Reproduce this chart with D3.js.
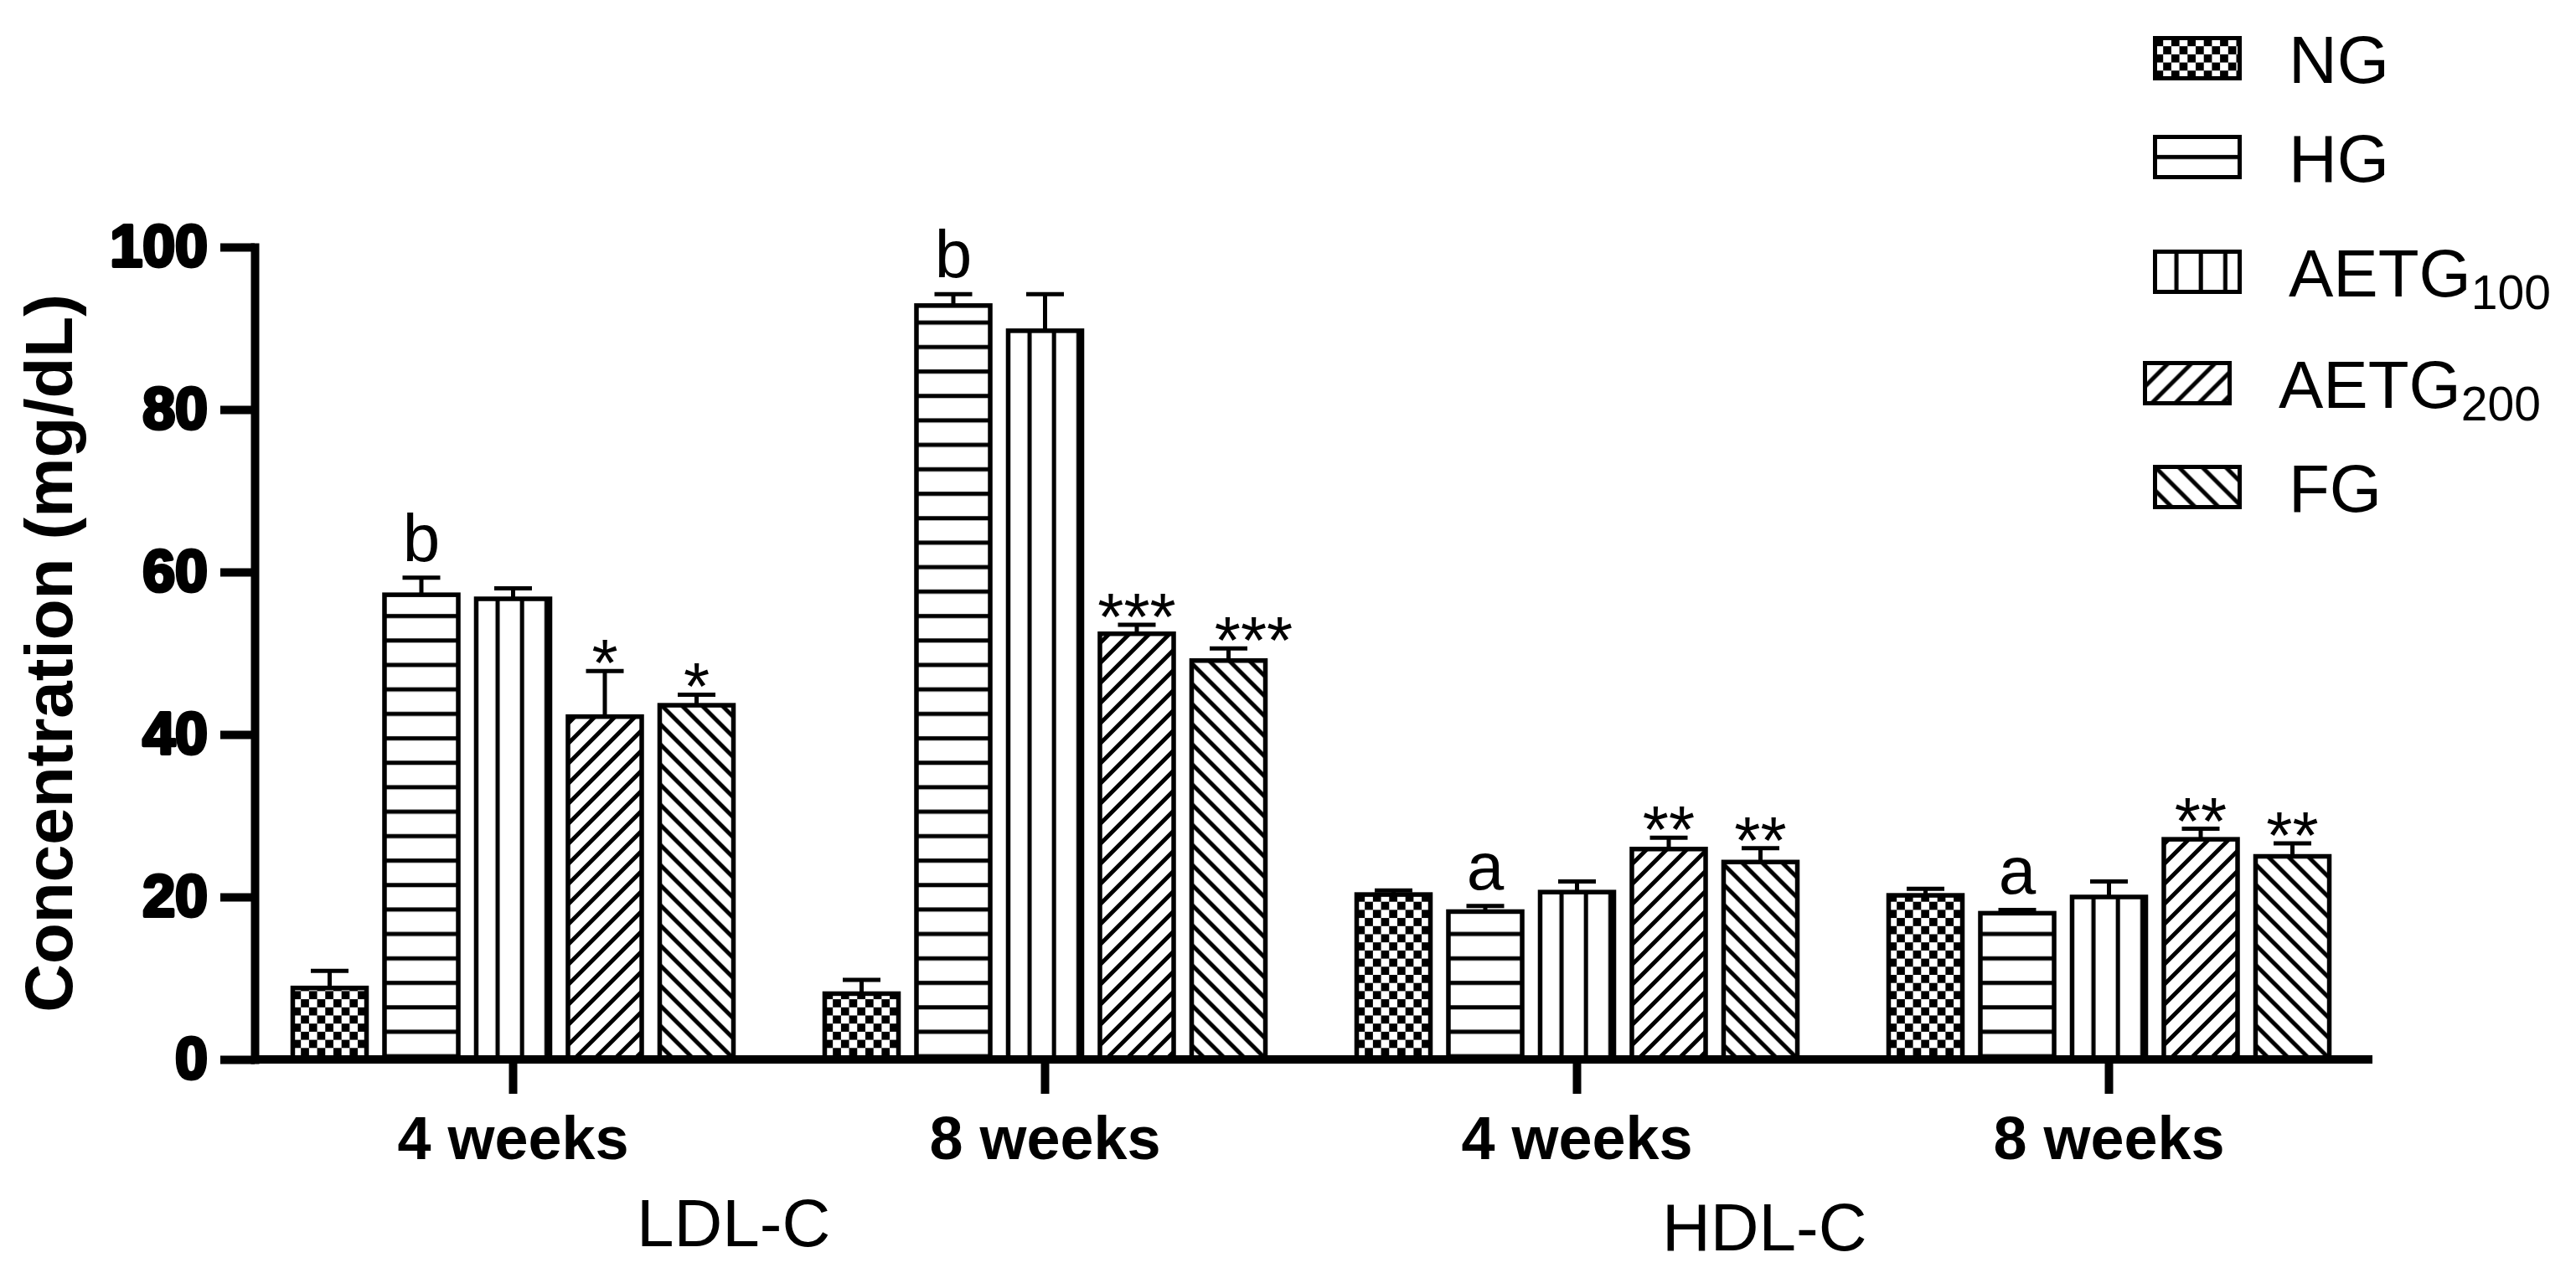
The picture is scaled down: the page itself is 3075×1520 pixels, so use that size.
<!DOCTYPE html>
<html>
<head>
<meta charset="utf-8">
<script src="https://cdn.jsdelivr.net/npm/d3@7"></script>
<style>
  body { margin: 0; background: #fff; }
  svg text { font-family: "Liberation Sans", Arial, sans-serif; fill: #000; }
</style>
</head>
<body>
<div id="chart"></div>
<script>
// ---- data ----
var groups = ["LDL-C 4 weeks", "LDL-C 8 weeks", "HDL-C 4 weeks", "HDL-C 8 weeks"];
var weekLabels = ["4 weeks", "8 weeks", "4 weeks", "8 weeks"];
var lipidLabels = ["LDL-C", "HDL-C"];
var series = ["NG", "HG", "AETG100", "AETG200", "FG"];
var seriesMain = ["NG", "HG", "AETG", "AETG", "FG"];
var seriesSub = ["", "", "100", "200", ""];

// means per group (LDL 4w, LDL 8w, HDL 4w, HDL 8w)
var meanNG      = [8.8, 8.1, 20.3, 20.2];
var meanHG      = [57.2, 92.8, 18.2, 18.0];
var meanAETG100 = [56.7, 89.7, 20.6, 20.0];
var meanAETG200 = [42.2, 52.4, 25.9, 27.1];
var meanFG      = [43.6, 49.1, 24.3, 25.0];

// upper error (SEM)
var semNG      = [2.1, 1.7, 0.5, 0.8];
var semHG      = [2.1, 1.4, 0.7, 0.4];
var semAETG100 = [1.3, 4.5, 1.3, 1.9];
var semAETG200 = [5.6, 1.1, 1.4, 1.3];
var semFG      = [1.3, 1.5, 1.7, 1.6];

// significance marks
var markNG      = ["", "", "", ""];
var markHG      = ["b", "b", "a", "a"];
var markAETG100 = ["", "", "", ""];
var markAETG200 = ["*", "***", "**", "**"];
var markFG      = ["*", "***", "**", "**"];

var yTicks = [0, 20, 40, 60, 80, 100];

function init() {
    var width = 3075;
    var height = 1520;

    var means = [meanNG, meanHG, meanAETG100, meanAETG200, meanFG];
    var sems = [semNG, semHG, semAETG100, semAETG200, semFG];
    var marks = [markNG, markHG, markAETG100, markAETG200, markFG];

    var svg = d3.select("#chart")
        .append("svg")
        .attr("width", width)
        .attr("height", height)
        .style("background", "#fff");

    // Scales
    var y = d3.scaleLinear().domain([0, 100]).range([1265, 295]);
    var x0 = d3.scaleBand().domain(groups).range([295, 2835]).paddingInner(0).paddingOuter(0);
    var x1 = d3.scaleBand().domain(series).range([0, x0.bandwidth()])
        .paddingInner(0.196).paddingOuter(0.4975);
    var bw = x1.bandwidth();

    // Fill patterns
    var defs = svg.append("defs");

    function addPatterns(prefix, hOffset, diag) {
        var p = defs.append("pattern").attr("id", prefix + "NG")
            .attr("patternUnits", "userSpaceOnUse").attr("width", 19.4).attr("height", 19.4);
        p.append("rect").attr("width", 19.4).attr("height", 19.4).attr("fill", "#fff");
        p.append("rect").attr("width", 9.7).attr("height", 9.7).attr("fill", "#000");
        p.append("rect").attr("x", 9.7).attr("y", 9.7).attr("width", 9.7).attr("height", 9.7).attr("fill", "#000");

        p = defs.append("pattern").attr("id", prefix + "HG")
            .attr("patternUnits", "userSpaceOnUse").attr("width", 10).attr("height", 29.2);
        p.append("rect").attr("width", 10).attr("height", 29.2).attr("fill", "#fff");
        p.append("rect").attr("y", hOffset - 2.5).attr("width", 10).attr("height", 5).attr("fill", "#000");

        p = defs.append("pattern").attr("id", prefix + "AETG100")
            .attr("patternUnits", "userSpaceOnUse").attr("width", 29.2).attr("height", 10);
        p.append("rect").attr("width", 29.2).attr("height", 10).attr("fill", "#fff");
        p.append("rect").attr("x", 23).attr("width", 5).attr("height", 10).attr("fill", "#000");

        var d = diag;
        p = defs.append("pattern").attr("id", prefix + "AETG200")
            .attr("patternUnits", "userSpaceOnUse").attr("width", d).attr("height", d);
        p.append("rect").attr("width", d).attr("height", d).attr("fill", "#fff");
        p.append("path")
            .attr("d", "M0," + d + "L" + d + ",0M" + (-d / 4) + "," + (d / 4) + "L" + (d / 4) + "," + (-d / 4) +
                "M" + (3 * d / 4) + "," + (5 * d / 4) + "L" + (5 * d / 4) + "," + (3 * d / 4))
            .attr("stroke", "#000").attr("stroke-width", 5);

        p = defs.append("pattern").attr("id", prefix + "FG")
            .attr("patternUnits", "userSpaceOnUse").attr("width", d).attr("height", d);
        p.append("rect").attr("width", d).attr("height", d).attr("fill", "#fff");
        p.append("path")
            .attr("d", "M0,0L" + d + "," + d + "M" + (-d / 4) + "," + (3 * d / 4) + "L" + (d / 4) + "," + (5 * d / 4) +
                "M" + (3 * d / 4) + "," + (-d / 4) + "L" + (5 * d / 4) + "," + (d / 4))
            .attr("stroke", "#000").attr("stroke-width", 5);
    }
    addPatterns("bar-", 5.6, 24);
    addPatterns("leg-", 24, 28);

    // Bars
    var rows = groups.map(function (g, i) {
        return series.map(function (s, j) {
            return { group: g, series: s, mean: means[j][i], sem: sems[j][i], mark: marks[j][i] };
        });
    });

    var markShift = { "LDL-C 8 weeks|FG": 30 };

    var groupG = svg.append("g").selectAll("g")
        .data(rows)
        .enter()
        .append("g")
        .attr("transform", function (d, i) { return "translate(" + x0(groups[i]) + ",0)"; });

    var barG = groupG.selectAll("g")
        .data(function (d) { return d; })
        .enter()
        .append("g")
        .attr("transform", function (d) { return "translate(" + x1(d.series) + ",0)"; });

    barG.append("rect")
        .attr("x", 0)
        .attr("y", function (d) { return y(d.mean); })
        .attr("width", bw)
        .attr("height", function (d) { return y(0) - y(d.mean); })
        .attr("fill", function (d) { return "url(#bar-" + d.series + ")"; })
        .attr("stroke", "#000")
        .attr("stroke-width", 5.5);

    // Error bars (upper only)
    barG.append("line")
        .attr("x1", bw / 2).attr("x2", bw / 2)
        .attr("y1", function (d) { return y(d.mean); })
        .attr("y2", function (d) { return y(d.mean + d.sem); })
        .attr("stroke", "#000").attr("stroke-width", 5);
    barG.append("line")
        .attr("x1", bw / 2 - 22.5).attr("x2", bw / 2 + 22.5)
        .attr("y1", function (d) { return y(d.mean + d.sem); })
        .attr("y2", function (d) { return y(d.mean + d.sem); })
        .attr("stroke", "#000").attr("stroke-width", 5);

    // Significance marks
    barG.filter(function (d) { return d.mark !== ""; })
        .append("text")
        .attr("x", function (d) { return bw / 2 + (markShift[d.group + "|" + d.series] || 0); })
        .attr("y", function (d) {
            var top = y(d.mean + d.sem);
            return d.mark.charAt(0) === "*" ? top + 18 : top - 20;
        })
        .attr("text-anchor", "middle")
        .style("font-size", "80px")
        .text(function (d) { return d.mark; });

    // Y axis
    var yAxis = d3.axisLeft(y).tickValues(yTicks).tickSize(41).tickPadding(15).tickSizeOuter(0);
    var yG = svg.append("g").attr("transform", "translate(304,0)").call(yAxis);
    yG.attr("font-family", null);
    yG.select(".domain").attr("stroke-width", 10).attr("stroke-linecap", "square");
    yG.selectAll(".tick line").attr("stroke-width", 10);
    yG.selectAll(".tick text")
        .style("font-size", "70px").style("font-weight", "bold")
        .attr("stroke", "#000").attr("stroke-width", 4).attr("stroke-linejoin", "round");

    // X axis
    var xAxis = d3.axisBottom(x0).tickSize(41).tickPadding(27).tickSizeOuter(0)
        .tickFormat(function (d, i) { return weekLabels[i]; });
    var xG = svg.append("g").attr("transform", "translate(0," + y(0) + ")").call(xAxis);
    xG.attr("font-family", null);
    xG.select(".domain").remove();
    xG.append("line")
        .attr("x1", 304).attr("x2", 2832)
        .attr("stroke", "#000").attr("stroke-width", 10);
    xG.selectAll(".tick line").attr("stroke-width", 10);
    xG.selectAll(".tick text")
        .style("font-size", "72px").style("font-weight", "bold");

    // Lipid labels below the week labels
    svg.append("text").attr("x", 760).attr("y", 1488)
        .style("font-size", "80px").text(lipidLabels[0]);
    svg.append("text").attr("x", 1984).attr("y", 1493)
        .style("font-size", "80px").text(lipidLabels[1]);

    // Y title
    svg.append("text")
        .attr("transform", "translate(86,780) rotate(-90)")
        .attr("text-anchor", "middle")
        .style("font-size", "80px").style("font-weight", "bold")
        .text("Concentration (mg/dL)");

    // Legend
    var legTops = [43, 161, 298, 431, 555];
    var legDx = [0, 0, 0, -12, 0];
    var leg = svg.append("g").selectAll("g")
        .data(series)
        .enter()
        .append("g")
        .attr("transform", function (d, i) {
            return "translate(" + (2572.5 + legDx[i]) + "," + (legTops[i] + 2.5) + ")";
        });

    leg.append("rect")
        .attr("width", 101).attr("height", 48)
        .attr("fill", function (d) { return "url(#leg-" + d + ")"; })
        .attr("stroke", "#000").attr("stroke-width", 5);

    var legText = leg.append("text")
        .attr("x", 159.5).attr("y", 53)
        .style("font-size", "80px");
    legText.append("tspan").text(function (d, i) { return seriesMain[i]; });
    legText.append("tspan")
        .attr("dy", 15)
        .style("font-size", "57px")
        .text(function (d, i) { return seriesSub[i]; });
}

window.onload = init;
</script>
</body>
</html>
